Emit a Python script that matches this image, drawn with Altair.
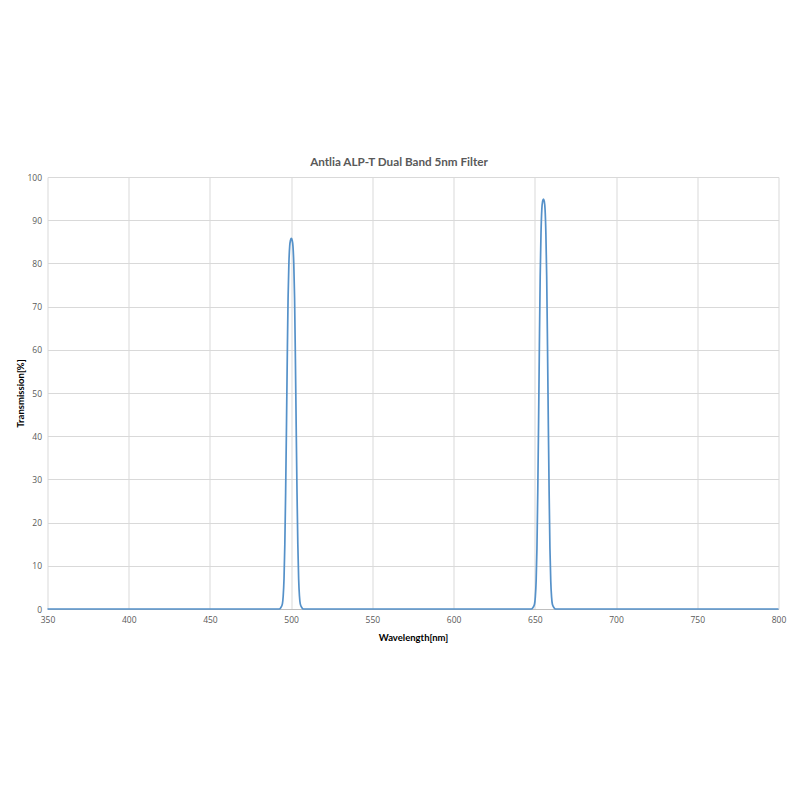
import altair as alt
import pandas as pd

# Wavelength (nm) and transmission (%)
wavelength = [
    350, 492.6, 493.6, 494.6, 495.1, 495.6, 496.1, 496.6, 497.1, 497.6, 498.1,
    498.6, 499.1, 499.6, 500.1, 500.6, 501.1, 501.6, 502.1, 502.6, 503.1,
    503.6, 504.1, 504.6, 505.1, 505.6, 506.6, 507.6,
    647.8, 648.8, 649.8, 650.3, 650.8, 651.3, 651.8, 652.3, 652.8, 653.3,
    653.8, 654.3, 654.8, 655.3, 655.8, 656.3, 656.8, 657.3, 657.8, 658.3,
    658.8, 659.3, 659.8, 660.3, 660.8, 661.8, 662.8, 800,
]
transmission = [
    0, 0, 0.3, 1.2, 3, 7, 15, 27, 42, 58, 72,
    80, 84, 85.4, 85.8, 85.4, 84, 80, 72, 58, 42,
    27, 15, 7, 3, 1.2, 0.3, 0,
    0, 0.3, 1.1, 2.8, 6.5, 14, 27, 43, 61, 77,
    87, 92.5, 94.4, 94.9, 94.4, 92.5, 87, 77, 61, 43,
    27, 14, 6.5, 2.8, 1.1, 0.3, 0, 0,
]
x_ticks = [350, 400, 450, 500, 550, 600, 650, 700, 750, 800]
y_ticks = [0, 10, 20, 30, 40, 50, 60, 70, 80, 90, 100]

df = pd.DataFrame({"wl": wavelength, "t": transmission})

chart = (
    alt.Chart(df)
    .mark_line(color="#5591C9", strokeWidth=1.7, interpolate="monotone")
    .encode(
        x=alt.X(
            "wl:Q",
            scale=alt.Scale(domain=[350, 800], nice=False, zero=False),
            axis=alt.Axis(
                values=x_ticks,
                title="Wavelength[nm]",
                ticks=False,
                domain=True,
                domainColor="#bfbfbf",
                labelPadding=6,
                labelFlush=False,
                titleX=365.5,
                titleY=28,
                titleBaseline="middle",
                titleAlign="center",
            ),
        ),
        y=alt.Y(
            "t:Q",
            scale=alt.Scale(domain=[0, 100], nice=False),
            axis=alt.Axis(
                values=y_ticks,
                title="Transmission[%]",
                ticks=False,
                domain=False,
                labelPadding=6,
                labelFlush=False,
                titleX=-27,
                titleY=216,
                titleAngle=270,
                titleBaseline="middle",
                titleAlign="center",
            ),
        ),
    )
    .properties(
        width=731,
        height=432,
        autosize=alt.AutoSizeParams(type="none"),
        padding={"left": 39.5, "top": 169, "right": 13, "bottom": 60},
        title=alt.TitleParams(
            "Antlia ALP-T Dual Band 5nm Filter",
            font="Lato",
            fontSize=11.7,
            fontWeight="bold",
            color="#595959",
            anchor="middle",
            dx=-14,
            offset=4,
        ),
    )
    .configure_view(stroke=None)
    .configure_axis(
        grid=True,
        gridColor="#d9d9d9",
        gridWidth=1,
        labelFont="Open Sans",
        labelFontSize=8.5,
        labelColor="#595959",
        titleFont="Lato",
        titleFontSize=9.5,
        titleFontWeight="bold",
        titleColor="#000000",
    )
)

chart.save("out.html", embed_options={"renderer": "svg", "actions": False})
